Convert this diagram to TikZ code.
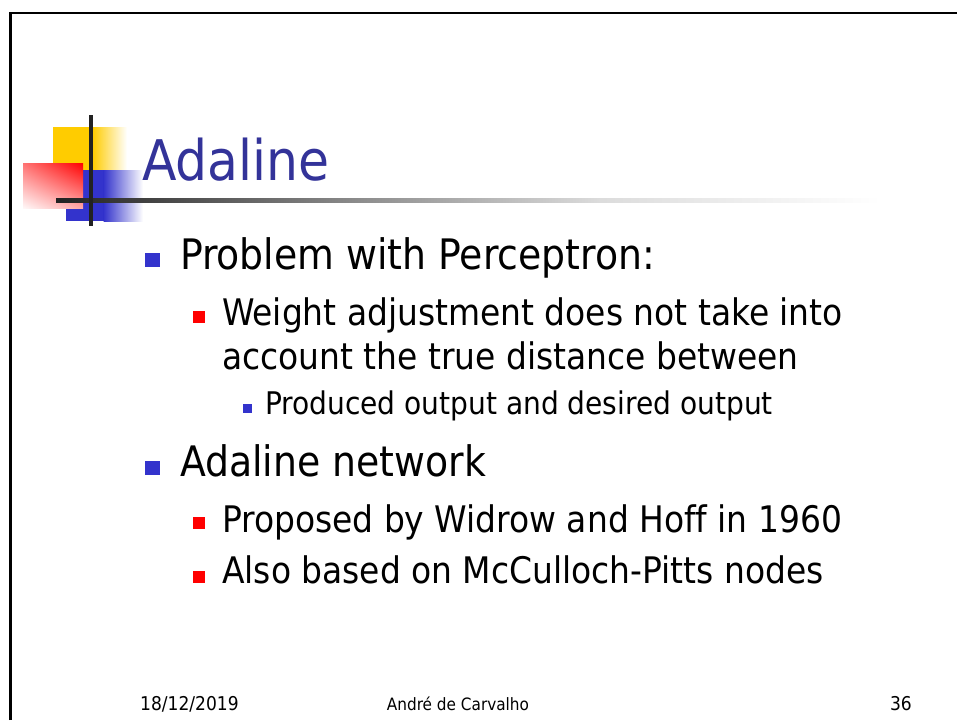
\documentclass[tikz,border=0pt]{standalone}
\usepackage{fontspec}
\setmainfont[Ligatures=NoCommon]{DejaVu Sans Condensed}
\usetikzlibrary{shadings}
\definecolor{titleblue}{RGB}{51,51,153}
\definecolor{logoblue}{RGB}{51,51,204}
\definecolor{logoyellow}{RGB}{255,204,0}
\definecolor{bulletred}{RGB}{255,0,0}
\definecolor{rulegray}{RGB}{34,34,34}
\tikzset{
  txt/.style={anchor=base west, inner sep=0pt, text=black},
  lvlone/.style={txt, font=\fontsize{42}{50}\selectfont},
  lvltwo/.style={txt, font=\fontsize{36.6}{44}\selectfont},
  lvlthree/.style={txt, font=\fontsize{31.2}{37}\selectfont},
  foot/.style={inner sep=0pt, anchor=base, font=\fontsize{19}{23}\selectfont},
}
\begin{document}
\begin{tikzpicture}[x=1pt,y=-1pt]
\useasboundingbox (0,0) rectangle (957,720);
\fill[white] (0,0) rectangle (957,720);

% slide frame
\draw[line width=2.6pt, black] (10.5,720) -- (10.5,12.8) -- (957,12.8);

% logo: yellow block with fading right edge
\fill[logoyellow] (53,127) rectangle (93,170);
\shade[left color=logoyellow, right color=white] (92.5,127) rectangle (127,170);
% blue block
\fill[logoblue] (66,170) rectangle (104,221);
\shade[left color=logoblue, right color=white] (103.5,170) rectangle (143,221);
% red block, diagonal fade
\shade[upper left=red!55, upper right=red, lower left=red!3, lower right=red!35]
  (23,163) rectangle (83,208);
% crossing rules
\shade[left color=rulegray, right color=rulegray!55!white] (56,198) rectangle (340,202);
\shade[left color=rulegray!55!white, right color=rulegray!16!white] (339.5,198) rectangle (600,202);
\shade[left color=rulegray!16!white, right color=white] (599.5,198) rectangle (880,202);
\fill[rulegray] (88.5,115) rectangle (92.5,226);

% title
\node[txt, text=titleblue, font=\fontsize{56}{66}\selectfont] (title) at (142,180) {Adaline};

% bullets, first level
\fill[logoblue] (145,253) rectangle (160,267);
\node[lvlone] (p1) at (180,269) {Problem with Perceptron:};
\fill[bulletred] (193,311) rectangle (205,323);
\node[lvltwo] (p2) at (222,325) {Weight adjustment does not take into};
\node[lvltwo] (p2b) at (222,369) {account the true distance between};
\fill[logoblue] (243,404) rectangle (252,413);
\node[lvlthree] (p3) at (265,414) {Produced output and desired output};

\fill[logoblue] (145,461) rectangle (160,475);
\node[lvlone] (a1) at (180,476) {Adaline network};
\fill[bulletred] (193,517) rectangle (205,529);
\node[lvltwo] (a2) at (222,532) {Proposed by Widrow and Hoff in 1960};
\fill[bulletred] (193,571) rectangle (205,583);
\node[lvltwo] (a3) at (222,583) {Also based on McCulloch-Pitts nodes};

% footer
\node[foot, anchor=base west] (date) at (140,710) {18/12/2019};
\node[foot, font=\fontsize{17}{21}\selectfont] (author) at (458,710) {André de Carvalho};
\node[foot, anchor=base east] (page) at (912,710) {36};
\end{tikzpicture}
\end{document}
